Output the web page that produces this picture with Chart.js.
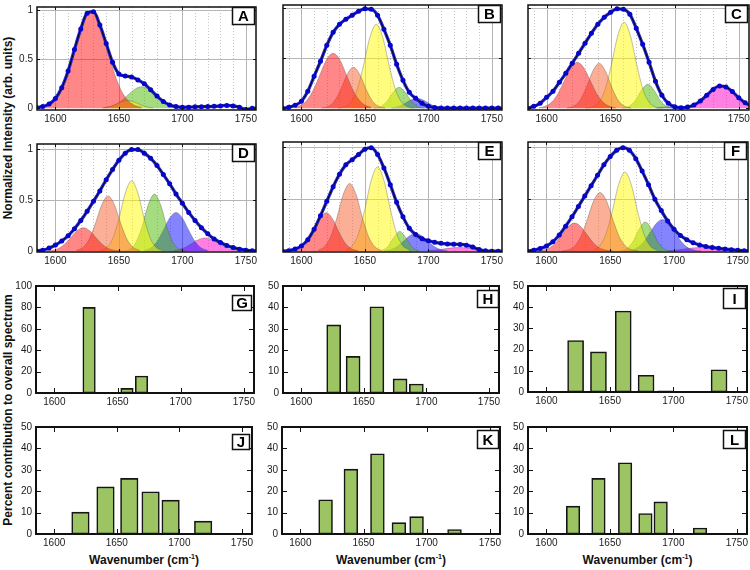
<!DOCTYPE html>
<html>
<head>
<meta charset="utf-8">
<script src="https://cdn.jsdelivr.net/npm/chart.js@4.4.0/dist/chart.umd.min.js"></script>
<style>
  body { margin: 0; background: #fff; }
  #fig { position: relative; width: 750px; height: 570px; overflow: hidden; font-family: "Liberation Sans", Arial, sans-serif; color: #111; }
  #fig canvas { position: absolute; }
  .ytitle { position: absolute; width: 300px; height: 14px; line-height: 14px; text-align: center; font-weight: bold; font-size: 12px; transform: rotate(-90deg); white-space: nowrap; }
  .xtitle { position: absolute; top: 550px; height: 14px; line-height: 14px; text-align: center; font-weight: bold; font-size: 12px; white-space: nowrap; }
  .xtitle span { font-size: 7px; vertical-align: 5px; }
</style>
</head>
<body>
<div id="fig">
  <div class="ytitle" style="left:-142px; top:121px">Normalized Intensity (arb. units)</div>
  <div class="ytitle" style="left:-142px; top:403px">Percent contribution to overall spectrum</div>
  <div class="xtitle" style="left:36px; width:216px">Wavenumber (cm<span>-1</span>)</div>
  <div class="xtitle" style="left:282px; width:218px">Wavenumber (cm<span>-1</span>)</div>
  <div class="xtitle" style="left:528px; width:219px">Wavenumber (cm<span>-1</span>)</div>
</div>
<script>
// axis ticks
const waveTicks = [1600, 1650, 1700, 1750];
const waveMinor = [1590, 1600, 1610, 1620, 1630, 1640, 1650, 1660, 1670, 1680, 1690, 1700, 1710, 1720, 1730, 1740, 1750];
const intensityTicks = [0, 0.5, 1];
const percentTicksG = [0, 20, 40, 60, 80, 100];
const percentTicks = [0, 10, 20, 30, 40, 50];
const waveMin = 1585.5;
const waveMax = 1758;

// measured spectra, sampled every 5 cm-1 from 1585 to 1760
const specStart = 1585;
const specStep = 5;
const spectrumA = [0.008, 0.018, 0.043, 0.10, 0.21, 0.38, 0.60, 0.81, 0.97, 0.985, 0.85, 0.66, 0.47, 0.35, 0.33, 0.32, 0.29, 0.25, 0.19, 0.125, 0.07, 0.035, 0.018, 0.01, 0.012, 0.015, 0.017, 0.018, 0.02, 0.025, 0.03, 0.025, 0.01, -0.012, 0.0, 0.005];
const spectrumB = [0.0, 0.01, 0.03, 0.07, 0.17, 0.32, 0.47, 0.63, 0.76, 0.84, 0.89, 0.93, 0.97, 0.995, 0.99, 0.93, 0.79, 0.63, 0.44, 0.28, 0.16, 0.10, 0.05, 0.02, 0.007, 0.003, 0.002, 0.002, 0.002, 0.002, 0.002, 0.002, 0.002, 0.002, 0.002, 0.002];
const spectrumC = [0.0, 0.02, 0.05, 0.11, 0.17, 0.26, 0.35, 0.45, 0.55, 0.65, 0.75, 0.84, 0.91, 0.96, 0.995, 0.99, 0.94, 0.80, 0.64, 0.46, 0.27, 0.13, 0.05, 0.015, 0.006, 0.012, 0.033, 0.073, 0.13, 0.189, 0.223, 0.214, 0.167, 0.106, 0.055, 0.023];
const spectrumD = [0.003, 0.01, 0.03, 0.06, 0.10, 0.15, 0.22, 0.30, 0.39, 0.49, 0.59, 0.70, 0.80, 0.89, 0.96, 0.995, 0.995, 0.96, 0.91, 0.84, 0.75, 0.66, 0.56, 0.47, 0.38, 0.30, 0.23, 0.17, 0.12, 0.085, 0.055, 0.035, 0.02, 0.01, 0.005, 0.0];
const spectrumE = [0.0, 0.005, 0.02, 0.05, 0.11, 0.21, 0.34, 0.48, 0.62, 0.74, 0.83, 0.88, 0.93, 0.98, 0.995, 0.93, 0.80, 0.64, 0.47, 0.33, 0.22, 0.16, 0.12, 0.10, 0.085, 0.075, 0.07, 0.067, 0.065, 0.058, 0.04, 0.015, 0.003, 0.0, 0.0, 0.0];
const spectrumF = [0.0, 0.01, 0.025, 0.05, 0.09, 0.155, 0.24, 0.33, 0.43, 0.53, 0.63, 0.73, 0.83, 0.91, 0.97, 0.995, 0.97, 0.89, 0.77, 0.64, 0.50, 0.39, 0.29, 0.21, 0.15, 0.11, 0.08, 0.06, 0.045, 0.035, 0.027, 0.02, 0.014, 0.009, 0.005, 0.002];

// fitted bands: which band, first wavenumber, heights every 5 cm-1
const bandKeysA = ['red', 'yellow', 'green'];
const bandStartA = [1588, 1637, 1638];
const bandsA = [
  [0.009, 0.026, 0.069, 0.154, 0.300, 0.504, 0.729, 0.910, 0.980, 0.910, 0.729, 0.504, 0.300, 0.154, 0.069, 0.026, 0.009],
  [0.004, 0.014, 0.037, 0.066, 0.080, 0.066, 0.037, 0.014, 0.004],
  [0.005, 0.017, 0.042, 0.087, 0.145, 0.198, 0.220, 0.198, 0.145, 0.087, 0.042, 0.017, 0.005]
];
const bandKeysB = ['red', 'salmon', 'yellow', 'green', 'blue'];
const bandStartB = [1595, 1616, 1629, 1657, 1671];
const bandsB = [
  [0.009, 0.032, 0.090, 0.198, 0.349, 0.491, 0.550, 0.491, 0.349, 0.198, 0.090, 0.032, 0.009],
  [0.003, 0.018, 0.071, 0.188, 0.337, 0.410, 0.337, 0.188, 0.071, 0.018, 0.003],
  [0.002, 0.014, 0.060, 0.190, 0.434, 0.712, 0.840, 0.712, 0.434, 0.190, 0.060, 0.014, 0.002],
  [0.002, 0.015, 0.064, 0.156, 0.210, 0.156, 0.064, 0.015, 0.002],
  [0.004, 0.017, 0.046, 0.082, 0.100, 0.082, 0.046, 0.017, 0.004]
];
const bandKeysC = ['red', 'salmon', 'yellow', 'green', 'blue', 'magenta'];
const bandStartC = [1594, 1616, 1630.5, 1659, 1685, 1706.5];
const bandsC = [
  [0.005, 0.020, 0.062, 0.149, 0.279, 0.406, 0.460, 0.406, 0.279, 0.149, 0.062, 0.020, 0.005],
  [0.003, 0.020, 0.077, 0.206, 0.370, 0.450, 0.370, 0.206, 0.077, 0.020, 0.003],
  [0.002, 0.011, 0.054, 0.181, 0.430, 0.723, 0.860, 0.723, 0.430, 0.181, 0.054, 0.011, 0.002],
  [0.002, 0.017, 0.073, 0.179, 0.240, 0.179, 0.073, 0.017, 0.002],
  [0.004, 0.011, 0.015, 0.011, 0.004],
  [0.005, 0.017, 0.043, 0.089, 0.149, 0.203, 0.225, 0.203, 0.149, 0.089, 0.043, 0.017, 0.005]
];
const bandKeysD = ['red', 'salmon', 'yellow', 'green', 'blue', 'magenta'];
const bandStartD = [1592, 1616.5, 1635, 1653, 1670, 1693];
const bandsD = [
  [0.002, 0.007, 0.025, 0.066, 0.132, 0.200, 0.230, 0.200, 0.132, 0.066, 0.025, 0.007, 0.002],
  [0.007, 0.034, 0.114, 0.270, 0.454, 0.540, 0.454, 0.270, 0.114, 0.034, 0.007],
  [0.005, 0.030, 0.119, 0.316, 0.567, 0.690, 0.567, 0.316, 0.119, 0.030, 0.005],
  [0.002, 0.016, 0.076, 0.230, 0.449, 0.560, 0.449, 0.230, 0.076, 0.016, 0.002],
  [0.008, 0.032, 0.095, 0.205, 0.326, 0.380, 0.326, 0.205, 0.095, 0.032, 0.008],
  [0.006, 0.018, 0.042, 0.079, 0.115, 0.130, 0.115, 0.079, 0.042, 0.018, 0.006]
];
const bandKeysE = ['red', 'salmon', 'yellow', 'green', 'blue', 'magenta'];
const bandStartE = [1594.5, 1613, 1635, 1662.5, 1665, 1699];
const bandsE = [
  [0.005, 0.023, 0.078, 0.185, 0.311, 0.370, 0.311, 0.185, 0.078, 0.023, 0.005],
  [0.008, 0.041, 0.137, 0.325, 0.547, 0.650, 0.547, 0.325, 0.137, 0.041, 0.008],
  [0.011, 0.051, 0.171, 0.405, 0.681, 0.810, 0.681, 0.405, 0.171, 0.051, 0.011],
  [0.005, 0.036, 0.126, 0.190, 0.126, 0.036, 0.005],
  [0.004, 0.014, 0.042, 0.092, 0.146, 0.170, 0.146, 0.092, 0.042, 0.014, 0.004],
  [0.004, 0.009, 0.016, 0.025, 0.032, 0.035, 0.032, 0.025, 0.016, 0.009, 0.004]
];
const bandKeysF = ['red', 'salmon', 'yellow', 'green', 'blue', 'magenta'];
const bandStartF = [1592, 1612, 1636.5, 1657.5, 1661, 1696];
const bandsF = [
  [0.002, 0.008, 0.029, 0.077, 0.155, 0.235, 0.270, 0.235, 0.155, 0.077, 0.029, 0.008, 0.002],
  [0.002, 0.012, 0.048, 0.141, 0.305, 0.484, 0.565, 0.484, 0.305, 0.141, 0.048, 0.012, 0.002],
  [0.010, 0.048, 0.160, 0.380, 0.639, 0.760, 0.639, 0.380, 0.160, 0.048, 0.010],
  [0.003, 0.020, 0.086, 0.208, 0.280, 0.208, 0.086, 0.020, 0.003],
  [0.002, 0.009, 0.033, 0.088, 0.175, 0.266, 0.305, 0.266, 0.175, 0.088, 0.033, 0.009, 0.002],
  [0.004, 0.009, 0.016, 0.025, 0.032, 0.035, 0.032, 0.025, 0.016, 0.009, 0.004]
];

// percent contribution of each band
const barCentersG = [1627.5, 1657.5, 1669];
const barValuesG = [80, 4.3, 15.8];
const barCentersH = [1626, 1641.5, 1660.5, 1679, 1692];
const barValuesH = [31.8, 17.1, 40.3, 6.6, 4.2];
const barCentersI = [1623, 1641, 1660.5, 1678.5, 1694, 1736];
const barValuesI = [24.3, 18.9, 38.2, 7.9, 0.5, 10.5];
const barCentersJ = [1621, 1641, 1660, 1677, 1693, 1719];
const barValuesJ = [10.2, 22, 26, 19.7, 15.8, 6];
const barCentersK = [1620, 1640, 1661, 1678, 1692, 1722];
const barValuesK = [16, 30.3, 37.5, 5.3, 8.1, 2.1];
const barCentersL = [1621, 1641, 1662, 1678, 1690, 1721];
const barValuesL = [13, 26, 33.3, 9.6, 15, 2.8];

const bandFill = {
  red: 'rgba(255,15,15,0.5)',
  salmon: 'rgba(245,95,45,0.5)',
  yellow: 'rgba(255,250,0,0.5)',
  green: 'rgba(75,185,0,0.5)',
  blue: 'rgba(10,10,255,0.5)',
  magenta: 'rgba(255,0,200,0.5)'
};

const specData = {
  A: [spectrumA, bandKeysA, bandStartA, bandsA],
  B: [spectrumB, bandKeysB, bandStartB, bandsB],
  C: [spectrumC, bandKeysC, bandStartC, bandsC],
  D: [spectrumD, bandKeysD, bandStartD, bandsD],
  E: [spectrumE, bandKeysE, bandStartE, bandsE],
  F: [spectrumF, bandKeysF, bandStartF, bandsF]
};
const barData = {
  G: [barCentersG, barValuesG],
  H: [barCentersH, barValuesH],
  I: [barCentersI, barValuesI],
  J: [barCentersJ, barValuesJ],
  K: [barCentersK, barValuesK],
  L: [barCentersL, barValuesL]
};

// layout: plot rectangle [left, top, right, bottom], label box [top inset, right inset, w, h]
const panels = [
  { id: 'A', rect: [37, 5, 256, 110], y: [-0.017, 1.033], yLabels: true, box: [0, 2, 22, 17] },
  { id: 'B', rect: [283, 5, 502, 110], y: [-0.017, 1.033], yLabels: false, box: [0, 2, 22, 17] },
  { id: 'C', rect: [528, 5, 749, 110], y: [-0.017, 1.033], yLabels: false, box: [0, 2, 22, 17] },
  { id: 'D', rect: [37, 142, 256, 252], y: [-0.008, 1.05], yLabels: true, box: [0, 2, 22, 17] },
  { id: 'E', rect: [283, 142, 502, 252], y: [-0.008, 1.05], yLabels: false, box: [0, 2, 22, 17] },
  { id: 'F', rect: [528, 142, 748, 252], y: [-0.008, 1.05], yLabels: false, box: [0, 2, 22, 17] },
  { id: 'G', rect: [36, 284, 254, 393], y: [0, 100], box: [9, 3, 19, 15], bar: 12.5 },
  { id: 'H', rect: [283, 284, 499, 393], y: [0, 50], box: [4, 1, 21, 17], bar: 14 },
  { id: 'I', rect: [528, 284, 747, 392], y: [0, 50], box: [2, 2, 22, 20], bar: 16 },
  { id: 'J', rect: [36, 425, 252, 534], y: [0, 50], box: [7, 3, 17, 15], bar: 17.5 },
  { id: 'K', rect: [282, 425, 500, 534], y: [0, 50], box: [3, 2, 21, 18], bar: 13.8 },
  { id: 'L', rect: [528, 425, 747, 534], y: [0, 50], box: [3, 2, 22, 18], bar: 13.5 }
];

const AXIS_W = 36, AXIS_H = 20, PAD_T = 8, PAD_R = 12;

const frameDecor = {
  id: 'frameDecor',
  beforeDatasetsDraw(chart, args, o) {
    if (!o.grid) return;
    const { ctx, chartArea: a, scales } = chart;
    ctx.save();
    ctx.lineWidth = 1;
    waveMinor.forEach(v => {
      const px = Math.round(scales.x.getPixelForValue(v)) + 0.5;
      const major = waveTicks.includes(v);
      ctx.strokeStyle = major ? '#b5b5b5' : '#c2c2c2';
      ctx.setLineDash(major ? [] : [1, 2]);
      ctx.beginPath();
      ctx.moveTo(px, a.top);
      ctx.lineTo(px, a.bottom);
      ctx.stroke();
    });
    ctx.setLineDash([]);
    ctx.strokeStyle = '#b5b5b5';
    intensityTicks.forEach(v => {
      if (v <= 0) return;
      const py = Math.round(scales.y.getPixelForValue(v)) + 0.5;
      ctx.beginPath();
      ctx.moveTo(a.left, py);
      ctx.lineTo(a.right, py);
      ctx.stroke();
    });
    ctx.restore();
  },
  afterDatasetsDraw(chart, args, o) {
    const { ctx, chartArea: a, scales } = chart;
    ctx.save();
    ctx.strokeStyle = '#111';
    ctx.lineWidth = 1;
    const L = o.tick;
    ctx.beginPath();
    waveTicks.forEach(v => {
      const px = Math.round(scales.x.getPixelForValue(v)) + 0.5;
      ctx.moveTo(px, a.bottom); ctx.lineTo(px, a.bottom - L);
      ctx.moveTo(px, a.top); ctx.lineTo(px, a.top + L);
    });
    o.yTicks.forEach(v => {
      const py = Math.round(scales.y.getPixelForValue(v)) + 0.5;
      ctx.moveTo(a.left, py); ctx.lineTo(a.left + L, py);
      ctx.moveTo(a.right, py); ctx.lineTo(a.right - L, py);
    });
    ctx.stroke();
    ctx.lineWidth = o.frame;
    ctx.strokeRect(a.left, a.top, a.right - a.left, a.bottom - a.top);

    const [dt, dr, w, h] = o.box;
    const bx = Math.round(a.right - dr - w) + 0.5, by = Math.round(a.top + dt) + 0.5;
    ctx.fillStyle = '#fff';
    ctx.fillRect(bx, by, w, h);
    ctx.lineWidth = 1.5;
    ctx.strokeRect(bx, by, w, h);
    ctx.fillStyle = '#000';
    ctx.font = 'bold 15px "Liberation Sans", Arial, sans-serif';
    ctx.textAlign = 'center';
    ctx.textBaseline = 'middle';
    ctx.fillText(o.letter, bx + w / 2, by + h / 2 + 1);
    ctx.restore();
  }
};
Chart.register(frameDecor);
Chart.defaults.font.family = '"Liberation Sans", Arial, sans-serif';

function baseOptions(p, yTicks, showY, isBar) {
  return {
    responsive: false,
    animation: false,
    devicePixelRatio: 1,
    layout: { padding: { left: 0, top: PAD_T, right: PAD_R, bottom: 0 } },
    plugins: {
      legend: { display: false },
      tooltip: { enabled: false },
      frameDecor: { grid: !isBar, yTicks, tick: isBar ? 5 : 3, frame: isBar ? 2 : 1.5, box: p.box, letter: p.id }
    },
    scales: {
      x: {
        type: 'linear', min: waveMin, max: waveMax, offset: false,
        grid: { display: false, drawTicks: false },
        border: { display: false },
        afterBuildTicks: s => { s.ticks = waveTicks.map(v => ({ value: v })); },
        afterFit: s => { s.height = AXIS_H; },
        ticks: { padding: 3, color: '#1a1a1a', font: { size: 10 }, maxRotation: 0, autoSkip: false, callback: v => String(v) }
      },
      y: {
        min: p.y[0], max: p.y[1],
        grid: { display: false, drawTicks: false },
        border: { display: false },
        afterBuildTicks: s => { s.ticks = yTicks.map(v => ({ value: v })); },
        afterFit: s => { s.width = AXIS_W; },
        ticks: { display: showY, padding: 4, color: '#1a1a1a', font: { size: 10 }, autoSkip: false, callback: v => String(v) }
      }
    }
  };
}

function makeCanvas(p) {
  const [l, t, r, b] = p.rect;
  const c = document.createElement('canvas');
  const w = (r - l) + AXIS_W + PAD_R;
  const h = (b - t) + PAD_T + AXIS_H;
  c.width = w; c.height = h;
  c.style.left = (l - AXIS_W) + 'px';
  c.style.top = (t - PAD_T) + 'px';
  c.style.width = w + 'px';
  c.style.height = h + 'px';
  document.getElementById('fig').appendChild(c);
  return c;
}

panels.forEach(p => {
  const canvas = makeCanvas(p);
  if (specData[p.id]) {
    const [spectrum, keys, starts, bands] = specData[p.id];
    const pts = spectrum.map((v, k) => ({ x: specStart + k * specStep, y: v }));
    const datasets = [
      { data: pts, borderColor: '#000', borderWidth: 1, pointRadius: 2.5, pointBackgroundColor: '#0606c8', pointBorderWidth: 0, cubicInterpolationMode: 'monotone', order: 0 },
      { data: pts, borderColor: '#2424d0', borderWidth: 3.2, pointRadius: 0, cubicInterpolationMode: 'monotone', order: 1 }
    ];
    bands.forEach((vals, i) => {
      datasets.push({
        data: vals.map((v, k) => ({ x: starts[i] + k * specStep, y: v })),
        fill: 'origin',
        backgroundColor: bandFill[keys[i]],
        borderColor: 'rgba(80,80,80,0.45)',
        borderWidth: 0.8,
        pointRadius: 0,
        cubicInterpolationMode: 'monotone',
        order: 10 + i
      });
    });
    new Chart(canvas, { type: 'line', data: { datasets }, options: baseOptions(p, intensityTicks, p.yLabels, false) });
  } else {
    const [centers, values] = barData[p.id];
    const yTicks = p.y[1] === 100 ? percentTicksG : percentTicks;
    new Chart(canvas, {
      type: 'bar',
      data: {
        datasets: [{
          data: centers.map((c, i) => ({ x: c, y: values[i] })),
          backgroundColor: '#9cc462',
          borderColor: '#151515',
          borderWidth: 1.6,
          borderSkipped: false,
          barThickness: p.bar
        }]
      },
      options: baseOptions(p, yTicks, true, true)
    });
  }
});
</script>
</body>
</html>
